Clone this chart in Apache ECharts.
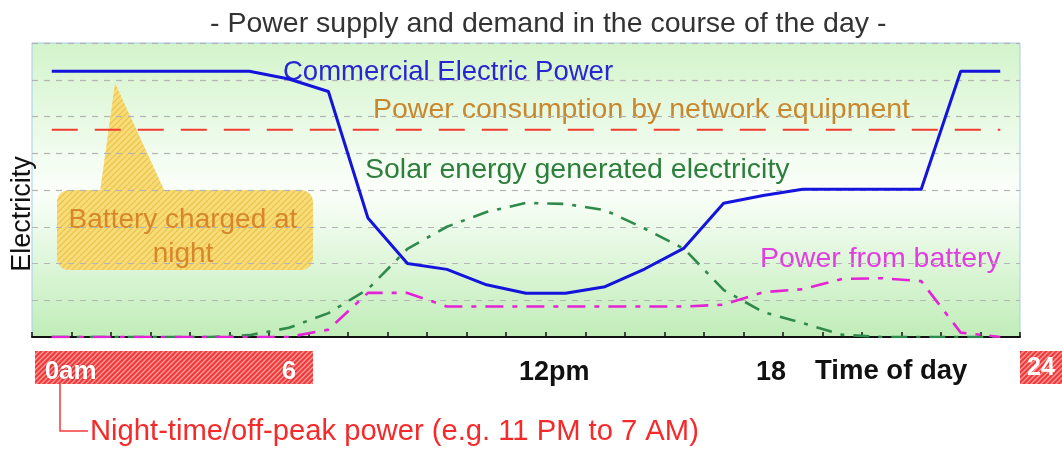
<!DOCTYPE html>
<html>
<head>
<meta charset="utf-8">
<script src="https://cdn.jsdelivr.net/npm/echarts@6/dist/echarts.min.js"></script>
<style>
  html, body { margin: 0; padding: 0; background: #fff; }
  #chart { width: 1062px; height: 451px; }
</style>
</head>
<body>
<div id="chart"></div>
<script>
// hours of the day (x values)
var hours = [0, 1, 2, 3, 4, 5, 6, 7, 8, 9, 10, 11, 12, 13, 14, 15, 16, 17, 18, 19, 20, 21, 22, 23, 24];
// electricity (arbitrary units)
var commercialPower = [7.23, 7.23, 7.23, 7.23, 7.23, 7.23, 7.02, 6.68, 3.24, 2.0, 1.84, 1.42, 1.19, 1.19, 1.37, 1.85, 2.42, 3.64, 3.85, 4.02, 4.02, 4.02, 4.02, 7.23, 7.23];
var networkPower = [5.64, 5.64, 5.64, 5.64, 5.64, 5.64, 5.64, 5.64, 5.64, 5.64, 5.64, 5.64, 5.64, 5.64, 5.64, 5.64, 5.64, 5.64, 5.64, 5.64, 5.64, 5.64, 5.64, 5.64, 5.64];
var solarPower = [0, 0, 0, 0, 0, 0.05, 0.25, 0.65, 1.3, 2.4, 3.0, 3.4, 3.65, 3.62, 3.45, 2.95, 2.4, 1.28, 0.68, 0.38, 0.06, 0, 0, 0, 0];
var batteryPower = [0, 0, 0, 0, 0, 0, 0, 0.2, 1.2, 1.2, 0.83, 0.83, 0.83, 0.83, 0.83, 0.83, 0.83, 0.88, 1.22, 1.3, 1.58, 1.6, 1.52, 0.12, 0];

// tick labels on the time axis
var tickHours = [0, 6, 12, 18];
var tickLabels = ['0am', '6', '12pm', '18'];

function pairs(ys) {
    return hours.map(function (h, i) { return [h, ys[i]]; });
}

// diagonal hatch pattern
function hatch(base, stripe, size, lw) {
    var c = document.createElement('canvas');
    c.width = size; c.height = size;
    var g = c.getContext('2d');
    g.fillStyle = base;
    g.fillRect(0, 0, size, size);
    g.strokeStyle = stripe;
    g.lineWidth = lw;
    g.beginPath();
    g.moveTo(-1, size + 1); g.lineTo(size + 1, -1);
    g.moveTo(-size / 2 - 1, size / 2 + 1); g.lineTo(size / 2 + 1, -size / 2 - 1);
    g.moveTo(size / 2 - 1, size * 1.5 + 1); g.lineTo(size * 1.5 + 1, size / 2 - 1);
    g.stroke();
    return { image: c, repeat: 'repeat' };
}

var redHatch = hatch('#f03a3a', '#ff9d9d', 5, 1.3);
var yellowHatch = hatch('#f7dc78', '#eac24c', 6, 1.2);

var fontFam = '"Liberation Sans", Arial, sans-serif';

// tick positions between hours
var tickEdges = [];
for (var t = 0; t <= hours.length; t++) tickEdges.push(t - 0.5);

var myChart = echarts.init(document.getElementById('chart'));

var options = {
    animation: false,
    title: {
        text: '- Power supply and demand in the course of the day -',
        left: 205,
        top: 5,
        textStyle: { color: '#333', fontSize: 28.5, fontWeight: 'normal', fontFamily: fontFam }
    },
    grid: {
        left: 32,
        right: 42,
        top: 43,
        bottom: 114,
        outerBoundsMode: 'none',
        containLabel: false,
        show: true,
        borderColor: '#a4cdee',
        borderWidth: 1,
        backgroundColor: new echarts.graphic.LinearGradient(0, 0, 0, 1, [
            { offset: 0, color: '#d3f4cb' },
            { offset: 0.5, color: '#fbfffa' },
            { offset: 1, color: '#c0edb8' }
        ])
    },
    xAxis: {
        type: 'value',
        min: -0.5,
        max: 24.5,
        splitLine: { show: false },
        axisLine: { show: true, lineStyle: { color: '#111', width: 2 } },
        axisTick: {
            show: true, inside: true, length: 5,
            customValues: tickEdges,
            lineStyle: { color: '#111', width: 1.5 }
        },
        axisLabel: {
            customValues: tickHours.map(function (h) { return h - 0.18; }),
            align: 'left',
            margin: 22,
            formatter: function (v) {
                var i = tickHours.indexOf(Math.round(v + 0.18));
                var s = tickLabels[i];
                return i < 2 ? '{w|' + s + '}' : '{b|' + s + '}';
            },
            rich: {
                w: { color: '#fff', fontSize: 26, fontWeight: 'bold', fontFamily: fontFam,
                     textShadowColor: 'rgba(120,0,0,0.6)', textShadowBlur: 2 },
                b: { color: '#111', fontSize: 27, fontWeight: 'bold', fontFamily: fontFam }
            }
        }
    },
    yAxis: {
        type: 'value',
        min: 0,
        max: 8,
        interval: 1,
        axisLine: { show: false },
        axisTick: { show: false },
        axisLabel: { show: false },
        splitLine: { show: true, lineStyle: { color: '#b4b4b4', type: [6, 6], width: 1.2 } }
    },
    series: [
        {
            name: 'Power consumption by network equipment',
            type: 'line',
            symbol: 'none',
            data: pairs(networkPower),
            lineStyle: { color: '#f23c30', width: 2.2, type: [26, 17] }
        },
        {
            name: 'Solar energy generated electricity',
            type: 'line',
            symbol: 'none',
            data: pairs(solarPower),
            lineStyle: { color: '#2f8a4c', width: 2.6, type: [16, 9, 4, 9] }
        },
        {
            name: 'Power from battery',
            type: 'line',
            symbol: 'none',
            data: pairs(batteryPower),
            lineStyle: { color: '#e523d6', width: 2.6, type: [18, 9, 5, 9] }
        },
        {
            name: 'Commercial Electric Power',
            type: 'line',
            symbol: 'none',
            data: pairs(commercialPower),
            lineStyle: { color: '#1414dc', width: 3 }
        }
    ],
    graphic: [
        // y axis name
        { type: 'text', x: 23, y: 214, rotation: Math.PI / 2, style: { x: 0, y: 0, text: 'Electricity', fill: '#111', fontSize: 27,
            fontFamily: fontFam, textAlign: 'center', textVerticalAlign: 'middle' } },
        // off-peak band and "24" box under the axis
        { type: 'rect', z: -1, shape: { x: 35, y: 351, width: 278, height: 33 }, style: { fill: redHatch } },
        { type: 'rect', z: -1, shape: { x: 1020, y: 351, width: 42, height: 33 }, style: { fill: redHatch } },
        { type: 'text', z: 5, style: { x: 1041, y: 368, text: '24', fill: '#fff', fontSize: 25, fontWeight: 'bold',
            fontFamily: fontFam, textAlign: 'center', textVerticalAlign: 'middle' } },
        { type: 'text', style: { x: 815, y: 371, text: 'Time of day', fill: '#111', fontSize: 27.5, fontWeight: 'bold',
            fontFamily: fontFam, textAlign: 'left', textVerticalAlign: 'middle' } },
        // bracket to the note
        { type: 'polyline', shape: { points: [[60, 384], [60, 431], [88, 431]] }, style: { stroke: '#f23c3c', lineWidth: 1.5, fill: null } },
        { type: 'text', style: { x: 90, y: 432, text: 'Night-time/off-peak power (e.g. 11 PM to 7 AM)', fill: '#f52a2a',
            fontSize: 29.2, fontFamily: fontFam, textAlign: 'left', textVerticalAlign: 'middle' } },
        // callout bubble
        { type: 'polygon', shape: { points: [[100, 192], [115, 83], [165, 192]] }, style: { fill: yellowHatch } },
        { type: 'rect', shape: { x: 57, y: 190, width: 256, height: 80, r: 12 }, style: { fill: yellowHatch } },
        { type: 'text', style: { x: 183, y: 237, text: 'Battery charged at\nnight', fill: '#d8862c', fontSize: 28,
            lineHeight: 34, fontFamily: fontFam, textAlign: 'center', textVerticalAlign: 'middle' } },
        // line labels
        { type: 'text', style: { x: 283, y: 72, text: 'Commercial Electric Power', fill: '#2626d2', fontSize: 27.5,
            fontFamily: fontFam, textAlign: 'left', textVerticalAlign: 'middle' } },
        { type: 'text', style: { x: 373, y: 110, text: 'Power consumption by network equipment', fill: '#c8872e', fontSize: 28.5,
            fontFamily: fontFam, textAlign: 'left', textVerticalAlign: 'middle' } },
        { type: 'text', style: { x: 365, y: 170, text: 'Solar energy generated electricity', fill: '#2e7f3e', fontSize: 28.5,
            fontFamily: fontFam, textAlign: 'left', textVerticalAlign: 'middle' } },
        { type: 'text', style: { x: 760, y: 259, text: 'Power from battery', fill: '#e03ee0', fontSize: 28.5,
            fontFamily: fontFam, textAlign: 'left', textVerticalAlign: 'middle' } }
    ]
};

myChart.setOption(options);
</script>
</body>
</html>
